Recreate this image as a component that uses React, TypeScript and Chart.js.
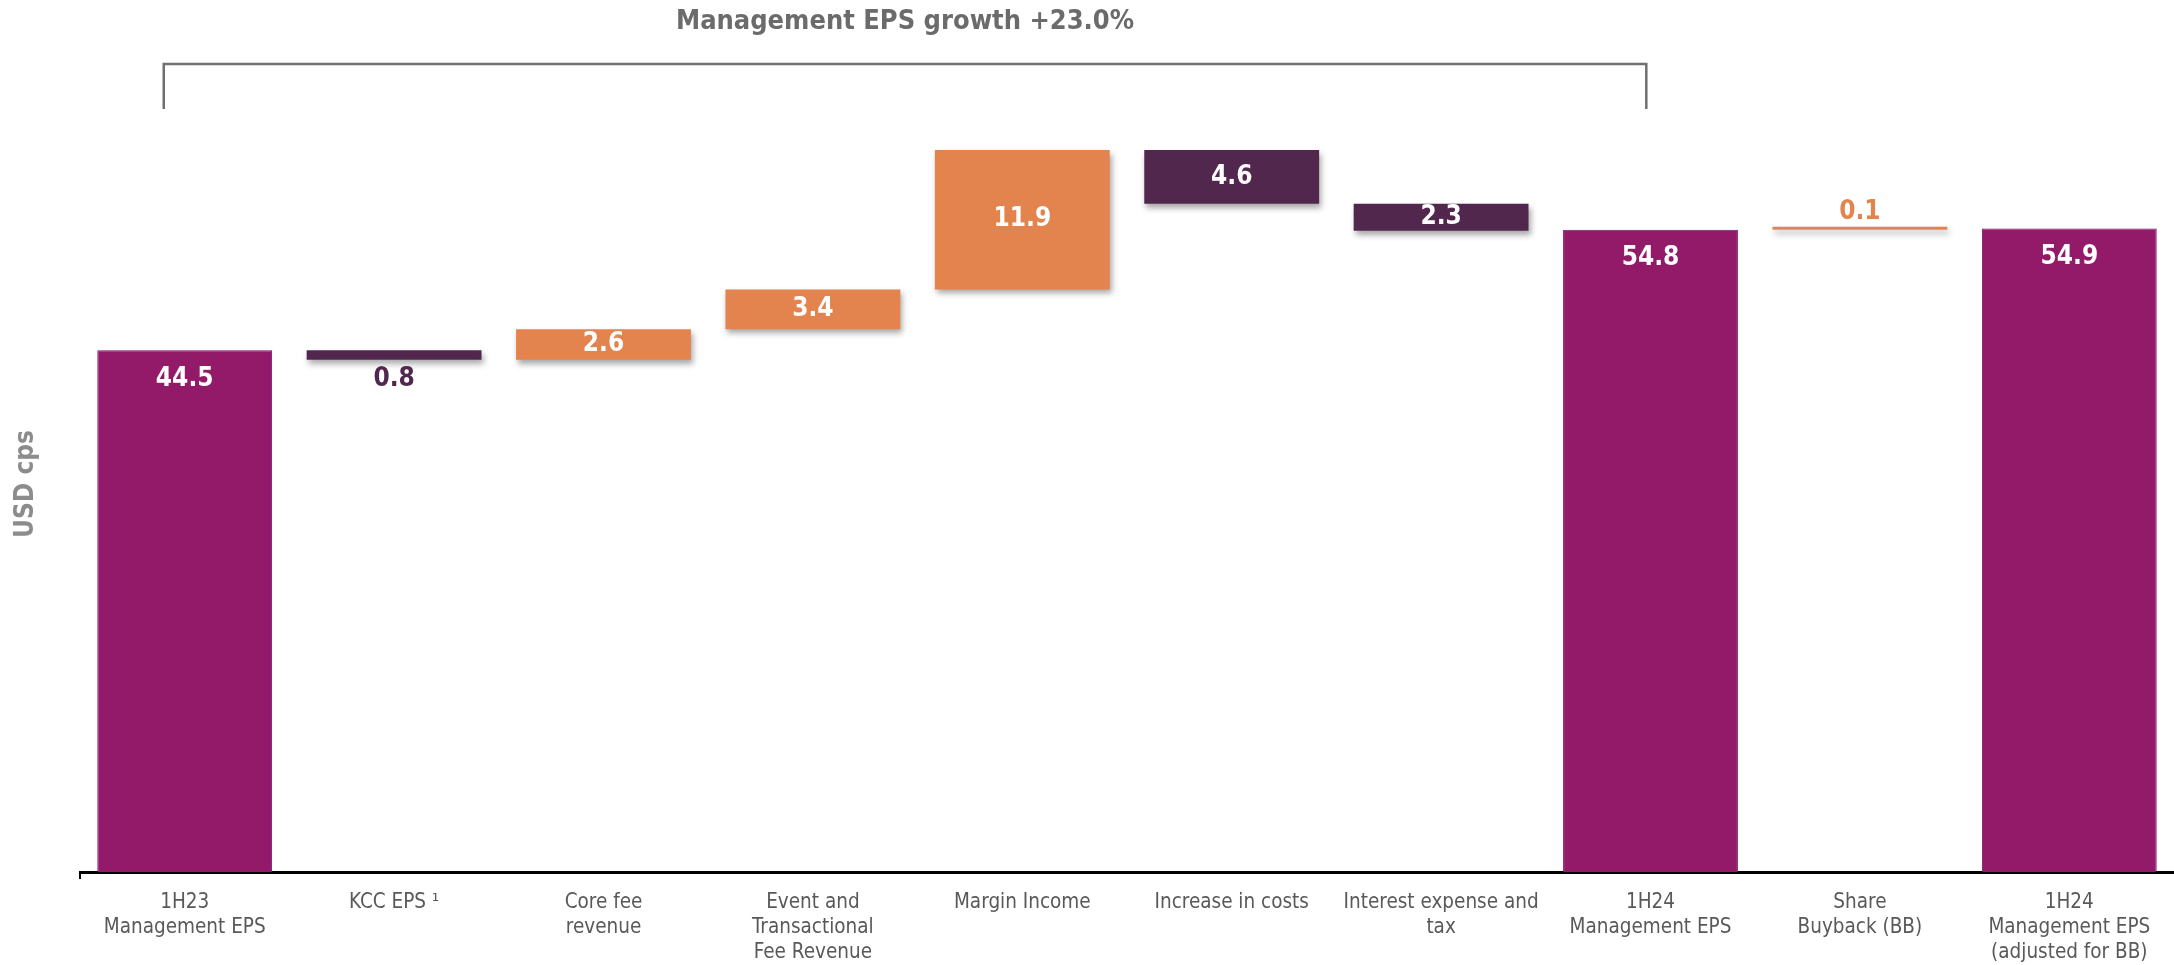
import React, { useEffect, useRef } from "react";
import { Chart, registerables } from "chart.js";

Chart.register(...registerables);

const categories: (string | string[])[] = [
  ["1H23", "Management EPS"],
  "KCC EPS \u00B9",
  ["Core fee", "revenue"],
  ["Event and", "Transactional", "Fee Revenue"],
  "Margin Income",
  "Increase in costs",
  ["Interest expense and", "tax"],
  ["1H24", "Management EPS"],
  ["Share", "Buyback (BB)"],
  ["1H24", "Management EPS", "(adjusted for BB)"],
];

// signed change for steps, level for totals
const values = [44.5, -0.8, 2.6, 3.4, 11.9, -4.6, -2.3, 54.8, 0.1, 54.9];
const kinds = ["total", "change", "change", "change", "change", "change", "change", "total", "change", "total"];

const bracketTitle = "Management EPS growth +23.0%";
const bracketFrom = 0;
const bracketTo = 7;
const yAxisTitle = "USD cps";
const yMax = 66.2;

const FONT = '"DejaVu Sans Condensed", "DejaVu Sans", sans-serif';
const C_TOTAL = "#931A69";
const C_TOTAL_BORDER = "#7A1070";
const C_UP = "#E3844F";
const C_DOWN = "#52274E";

export default function App() {
  const ref = useRef<HTMLCanvasElement | null>(null);

  useEffect(() => {
    if (!ref.current) return;

    const totals: (number[] | null)[] = [];
    const changes: (number[] | null)[] = [];
    const changeColors: string[] = [];
    let running = 0;
    values.forEach((v, i) => {
      if (kinds[i] === "total") {
        totals.push([0, v]);
        changes.push(null);
        changeColors.push(C_TOTAL);
        running = v;
      } else {
        totals.push(null);
        changes.push([running, running + v]);
        changeColors.push(v >= 0 ? C_UP : C_DOWN);
        running += v;
      }
    });

    const shadowPlugin = {
      id: "shadowPlugin",
      beforeDatasetDraw(chart: any, args: any) {
        if (args.index === 1) {
          const ctx = chart.ctx;
          ctx.save();
          ctx.shadowColor = "rgba(0,0,0,0.35)";
          ctx.shadowBlur = 6;
          ctx.shadowOffsetX = 2;
          ctx.shadowOffsetY = 4;
        }
      },
      afterDatasetDraw(chart: any, args: any) {
        if (args.index === 1) chart.ctx.restore();
      },
    };

    const labelPlugin = {
      id: "labelPlugin",
      afterDatasetsDraw(chart: any) {
        const ctx = chart.ctx;
        ctx.save();
        ctx.font = `bold 26px ${FONT}`;
        ctx.textAlign = "center";
        ctx.textBaseline = "middle";
        chart.data.datasets.forEach((ds: any, di: number) => {
          const meta = chart.getDatasetMeta(di);
          meta.data.forEach((el: any, i: number) => {
            if (ds.data[i] == null) return;
            const v = values[i];
            const text = Math.abs(v).toFixed(1);
            const top = Math.min(el.y, el.base);
            const bottom = Math.max(el.y, el.base);
            const h = bottom - top;
            if (kinds[i] === "total") {
              ctx.fillStyle = "#FFFFFF";
              ctx.fillText(text, el.x, top + 29);
            } else if (h >= 20) {
              ctx.fillStyle = "#FFFFFF";
              ctx.fillText(text, el.x, (top + bottom) / 2);
            } else if (v < 0) {
              ctx.fillStyle = C_DOWN;
              ctx.fillText(text, el.x, bottom + 20);
            } else {
              ctx.fillStyle = C_UP;
              ctx.fillText(text, el.x, top - 14);
            }
          });
        });
        ctx.restore();
      },
    };

    const annotPlugin = {
      id: "annotPlugin",
      afterDraw(chart: any) {
        const ctx = chart.ctx;
        const xs = chart.scales.x;
        const area = chart.chartArea;
        const cw = xs.getPixelForValue(1) - xs.getPixelForValue(0);
        const x1 = xs.getPixelForValue(bracketFrom) - 0.1 * cw;
        const x2 = xs.getPixelForValue(bracketTo) - 0.02 * cw;
        const yLine = area.top - 32;
        const yLeg = area.top + 13;
        ctx.save();
        ctx.strokeStyle = "#707070";
        ctx.lineWidth = 2.5;
        ctx.beginPath();
        ctx.moveTo(x1, yLeg);
        ctx.lineTo(x1, yLine);
        ctx.lineTo(x2, yLine);
        ctx.lineTo(x2, yLeg);
        ctx.stroke();
        ctx.font = `bold 27px ${FONT}`;
        ctx.fillStyle = "#6B6B6B";
        ctx.textAlign = "center";
        ctx.textBaseline = "middle";
        ctx.fillText(bracketTitle, (x1 + x2) / 2, area.top - 74);
        // small tick at left end of the axis
        ctx.strokeStyle = "#000000";
        ctx.lineWidth = 2;
        ctx.beginPath();
        ctx.moveTo(area.left, area.bottom);
        ctx.lineTo(area.left, area.bottom + 7);
        ctx.stroke();
        ctx.restore();
      },
    };

    const chart = new Chart(ref.current, {
      type: "bar",
      data: {
        labels: categories,
        datasets: [
          {
            label: "totals",
            data: totals as any,
            backgroundColor: C_TOTAL,
            borderColor: C_TOTAL_BORDER,
            borderWidth: 1,
            borderSkipped: "bottom",
            grouped: false,
            barPercentage: 0.835,
            categoryPercentage: 1,
          },
          {
            label: "changes",
            data: changes as any,
            backgroundColor: changeColors,
            borderWidth: 0,
            minBarLength: 3,
            grouped: false,
            barPercentage: 0.835,
            categoryPercentage: 1,
          },
        ],
      },
      options: {
        animation: false,
        responsive: false,
        maintainAspectRatio: false,
        layout: { padding: { top: 96, right: 0, bottom: 0, left: 0 } },
        plugins: {
          legend: { display: false },
          tooltip: { enabled: false },
          title: { display: false },
        },
        scales: {
          x: {
            grid: { display: false },
            border: { display: true, color: "#000000", width: 3 },
            ticks: {
              autoSkip: false,
              maxRotation: 0,
              minRotation: 0,
              padding: 10,
              color: "#595959",
              font: { family: FONT, size: 20.5, lineHeight: 1.22 },
            },
            afterFit(scale: any) {
              scale.height = 93;
            },
          },
          y: {
            min: 0,
            max: yMax,
            grid: { display: false },
            border: { display: false },
            ticks: { display: false },
            title: {
              display: true,
              text: yAxisTitle,
              color: "#8C8C8C",
              font: { family: FONT, size: 26, weight: "bold" },
              padding: { top: 11, bottom: 0 },
            },
            afterFit(scale: any) {
              scale.width = 80;
            },
          },
        },
      },
      plugins: [shadowPlugin, labelPlugin, annotPlugin],
    });

    return () => chart.destroy();
  }, []);

  return (
    <div style={{ position: "fixed", left: 0, top: 0, width: 2174, height: 965, background: "#fff" }}>
      <canvas ref={ref} width={2174} height={965} style={{ display: "block" }} />
    </div>
  );
}
